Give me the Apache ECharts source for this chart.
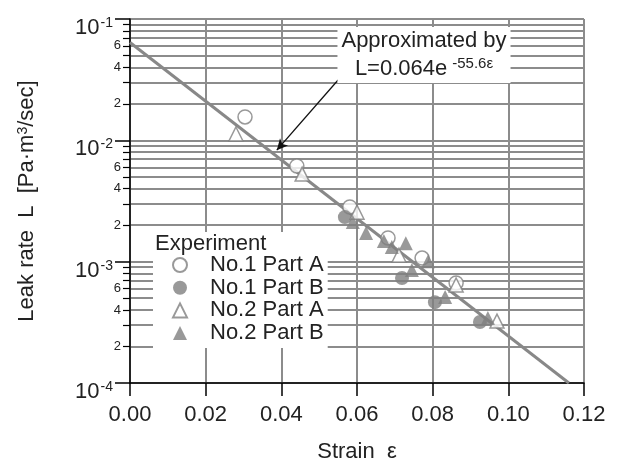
<!DOCTYPE html>
<html>
<head>
<meta charset="utf-8">
<script src="https://cdn.jsdelivr.net/npm/echarts@6/dist/echarts.min.js"></script>
<style>
html, body { margin: 0; padding: 0; background: #fff; }
#main { width: 619px; height: 466px; }
</style>
</head>
<body>
<div id="main"></div>
<script>
// values (strain, leak rate in Pa·m3/sec)
const no1A_strain = [0.0304, 0.0441, 0.0581, 0.0682, 0.0772, 0.0862];
const no1A_leak = [0.0156, 0.00614, 0.00282, 0.00157, 0.00107, 0.000667];
const no1B_strain = [0.0568, 0.0719, 0.0806, 0.0925];
const no1B_leak = [0.00233, 0.000733, 0.000464, 0.000318];
const no2A_strain = [0.0280, 0.0455, 0.0600, 0.0711, 0.0862, 0.0970];
const no2A_leak = [0.01127, 0.00527, 0.00256, 0.00113, 0.000642, 0.000324];
const no2B_strain = [0.0589, 0.0624, 0.0671, 0.0692, 0.0729, 0.0788, 0.0745, 0.0833, 0.0946];
const no2B_leak = [0.00212, 0.00172, 0.00148, 0.00132, 0.00142, 0.00101, 0.000853, 0.000511, 0.000343];

// approximation line L=0.064e^-55.6ε, its two ends as seen on the plot
const fitStrain = [0, 0.116];
const fitLeak = [0.064, 0.0001];

// arrow from the note to the line
const arrowFrom = [0.0550, 0.0314];
const arrowTo = [0.0388, 0.0083];

const seriesNames = ['No.1 Part A', 'No.1 Part B', 'No.2 Part A', 'No.2 Part B'];
const minorTicks = [2e-4, 3e-4, 4e-4, 5e-4, 6e-4, 7e-4, 8e-4, 9e-4,
                    2e-3, 3e-3, 4e-3, 5e-3, 6e-3, 7e-3, 8e-3, 9e-3,
                    2e-2, 3e-2, 4e-2, 5e-2, 6e-2, 7e-2, 8e-2, 9e-2];
const minorLabels = [2e-4, 4e-4, 6e-4, 2e-3, 4e-3, 6e-3, 2e-2, 4e-2, 6e-2];

const pair = (xs, ys) => xs.map((x, i) => [x, ys[i]]);

const font = 'Liberation Sans, Arial, sans-serif';
const txt = '#222';
const gray = '#808080';
const gridGray = '#8c8c8c';

const chart = echarts.init(document.getElementById('main'));

const marker = (name, symbol, open, xs, ys) => ({
    name: name,
    type: 'scatter',
    symbol: symbol,
    symbolSize: 14,
    z: 5,
    itemStyle: open
        ? { color: '#fff', borderColor: gray, borderWidth: 1.5 }
        : { color: gray },
    data: pair(xs, ys)
});

chart.setOption({
    animation: false,
    textStyle: { fontFamily: font },
    grid: { left: 130, right: 35, top: 19, bottom: 83, outerBoundsMode: 'none' },
    title: [
        {
            text: 'Experiment',
            left: 155, top: 233, padding: 0,
            textStyle: { fontSize: 22, fontWeight: 'normal', color: txt, fontFamily: font }
        },
        {
            text: '{a|Approximated by}\n{a|L=0.064e}{s|-55.6ε}',
            left: 420, top: 24, textAlign: 'center',
            backgroundColor: '#fff', padding: [3, 4, 3, 4],
            textStyle: {
                fontWeight: 'normal', fontFamily: font,
                rich: {
                    a: { fontSize: 22, lineHeight: 28, color: txt, fontFamily: font },
                    s: { fontSize: 15, lineHeight: 16, verticalAlign: 'top', color: txt,
                         fontFamily: font, padding: [1, 0, 0, 5] }
                }
            }
        }
    ],
    legend: {
        orient: 'vertical',
        left: 153, top: 232,
        padding: [22, 4, 4, 19],
        backgroundColor: '#fff',
        itemWidth: 14, itemHeight: 14, itemGap: 0.7,
        textStyle: { fontSize: 22, color: txt, fontFamily: font, padding: [0, 0, 0, 18] },
        data: seriesNames
    },
    xAxis: {
        type: 'value',
        min: 0, max: 0.12, interval: 0.02,
        name: 'Strain  ε',
        nameLocation: 'middle',
        nameGap: 58,
        nameTextStyle: { fontSize: 22, color: txt },
        axisLine: { lineStyle: { color: '#000', width: 1.5 } },
        axisTick: { length: 13, lineStyle: { color: '#000', width: 1.5 } },
        axisLabel: { fontSize: 22, color: txt, margin: 21, formatter: v => v.toFixed(2) },
        splitLine: { show: true, lineStyle: { color: gridGray, width: 2 } }
    },
    yAxis: [
        {
            type: 'log', logBase: 10,
            min: 1e-4, max: 1e-1,
            name: 'Leak rate  L  [Pa·m{s|3}/sec]',
            nameLocation: 'middle',
            nameGap: 92,
            nameTextStyle: {
                fontSize: 22, color: txt,
                rich: { s: { fontSize: 14, verticalAlign: 'top', color: txt, fontFamily: font } }
            },
            axisLine: { show: true, lineStyle: { color: '#000', width: 1.5 } },
            axisTick: { length: 15, lineStyle: { color: '#000', width: 1.5 } },
            axisLabel: {
                margin: 17,
                formatter: v => '{b|10}{s|' + Math.round(Math.log10(v)) + '}',
                rich: {
                    b: { fontSize: 22, lineHeight: 24, padding: [10, 0, 0, 0], verticalAlign: 'top',
                         color: txt, fontFamily: font },
                    s: { fontSize: 14, lineHeight: 16, padding: [9, 0, 0, 1], verticalAlign: 'top',
                         color: txt, fontFamily: font }
                }
            },
            splitLine: { show: true, lineStyle: { color: gridGray, width: 2 } }
        },
        {
            type: 'log', logBase: 10,
            min: 1e-4, max: 1e-1,
            position: 'left',
            axisLine: { show: false },
            axisTick: { customValues: minorTicks, length: 7, lineStyle: { color: '#000', width: 1.2 } },
            axisLabel: {
                customValues: minorLabels,
                margin: 9, fontSize: 13, color: txt,
                formatter: v => String(Math.round(v / Math.pow(10, Math.floor(Math.log10(v) + 1e-9))))
            },
            splitLine: { show: true, lineStyle: { color: gridGray, width: 2 } }
        }
    ],
    series: [
        {
            name: 'fit',
            type: 'line',
            symbol: 'none',
            z: 3,
            lineStyle: { color: '#888', width: 3 },
            data: pair(fitStrain, fitLeak),
            markLine: {
                silent: true,
                symbol: ['none', 'arrow'],
                symbolSize: [8, 11],
                label: { show: false },
                lineStyle: { color: '#111', width: 1.3, type: 'solid' },
                data: [[{ coord: arrowFrom }, { coord: arrowTo }]]
            }
        },
        marker(seriesNames[0], 'circle', true, no1A_strain, no1A_leak),
        marker(seriesNames[1], 'circle', false, no1B_strain, no1B_leak),
        marker(seriesNames[2], 'triangle', true, no2A_strain, no2A_leak),
        marker(seriesNames[3], 'triangle', false, no2B_strain, no2B_leak)
    ]
});
</script>
</body>
</html>
